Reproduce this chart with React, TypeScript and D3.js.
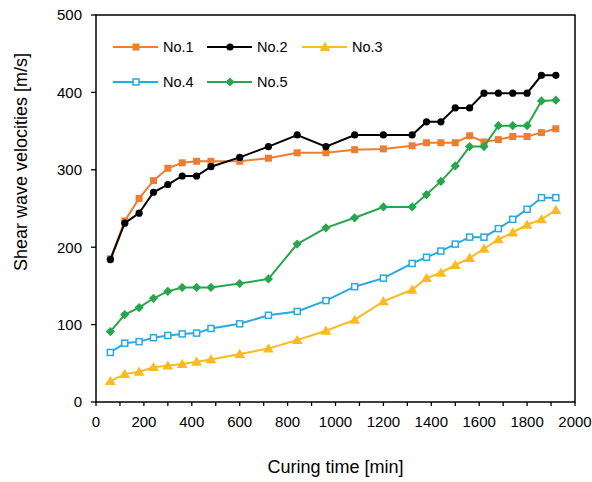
import React from "react";
import * as d3 from "d3";

const times = [60, 120, 180, 240, 300, 360, 420, 480, 600, 720, 840, 960, 1080, 1200, 1320, 1380, 1440, 1500, 1560, 1620, 1680, 1740, 1800, 1860, 1920];

const no1 = [185, 234, 263, 286, 302, 309, 311, 311, 311, 315, 322, 322, 326, 327, 331, 335, 335, 335, 344, 336, 339, 343, 343, 348, 353];
const no2 = [184, 231, 244, 271, 281, 292, 292, 304, 316, 330, 345, 330, 345, 345, 345, 362, 362, 380, 380, 399, 399, 399, 399, 422, 422];
const no3 = [27, 36, 39, 45, 47, 49, 52, 55, 62, 69, 80, 92, 106, 130, 145, 160, 167, 177, 186, 198, 210, 219, 229, 236, 248];
const no4 = [64, 76, 78, 83, 86, 88, 89, 95, 101, 112, 117, 131, 149, 160, 179, 187, 195, 204, 213, 213, 224, 236, 249, 264, 264];
const no5 = [91, 113, 122, 134, 143, 148, 148, 148, 153, 159, 204, 225, 238, 252, 252, 268, 285, 305, 330, 330, 357, 357, 357, 389, 390];

const xTicks = [0, 200, 400, 600, 800, 1000, 1200, 1400, 1600, 1800, 2000];
const xMinorTicks = d3.range(0, 2001, 100);
const yTicks = [0, 100, 200, 300, 400, 500];

const seriesNames = ["No.1", "No.2", "No.3", "No.4", "No.5"];
const seriesData = [no1, no2, no3, no4, no5];
const colors = ["#ED7D31", "#000000", "#FBBA1E", "#2AA8E0", "#27A64E"];
const markers = ["square", "circle", "triangle", "openSquare", "diamond"];

const W = 592, H = 482;
const left = 96, right = 575, top = 15, bottom = 402;

function Marker({ type, x, y, color }: { type: string; x: number; y: number; color: string }) {
  if (type === "square") return <rect x={x - 3.5} y={y - 3.5} width={7} height={7} fill={color} />;
  if (type === "circle") return <circle cx={x} cy={y} r={3.6} fill={color} />;
  if (type === "triangle") {
    const s = 5.2;
    return <path d={`M${x},${y - s}L${x + s * 1.05},${y + s * 0.75}L${x - s * 1.05},${y + s * 0.75}Z`} fill={color} />;
  }
  if (type === "openSquare") return <rect x={x - 3} y={y - 3} width={6} height={6} fill="#fff" stroke={color} strokeWidth={1.5} />;
  if (type === "diamond") {
    const s = 4.6;
    return <path d={`M${x},${y - s}L${x + s},${y}L${x},${y + s}L${x - s},${y}Z`} fill={color} />;
  }
  return null;
}

export default function App() {
  const x = d3.scaleLinear().domain([0, 2000]).range([left, right]);
  const y = d3.scaleLinear().domain([0, 500]).range([bottom, top]);
  const line = d3.line<[number, number]>().x(d => x(d[0])).y(d => y(d[1]));
  const font = "Arial, 'Liberation Sans', sans-serif";

  const legendPos = [
    { lx: 113, ly: 47 },
    { lx: 207, ly: 47 },
    { lx: 302, ly: 47 },
    { lx: 113, ly: 82 },
    { lx: 207, ly: 82 },
  ];

  return (
    <svg width={W} height={H} style={{ position: "absolute", left: 0, top: 0, background: "#fff" }} fontFamily={font}>
      <rect x={0} y={0} width={W} height={H} fill="#fff" />
      {seriesData.map((vals, i) => (
        <g key={i}>
          <path d={line(times.map((t, j) => [t, vals[j]]) as [number, number][]) || ""} fill="none" stroke={colors[i]} strokeWidth={2} />
          {times.map((t, j) => (
            <Marker key={j} type={markers[i]} x={x(t)} y={y(vals[j])} color={colors[i]} />
          ))}
        </g>
      ))}
      <rect x={left} y={top} width={right - left} height={bottom - top} fill="none" stroke="#000" strokeWidth={1.5} />
      {xMinorTicks.map(t => (
        <line key={t} x1={x(t)} x2={x(t)} y1={bottom} y2={bottom + 4} stroke="#000" strokeWidth={1.3} />
      ))}
      {xTicks.map(t => (
        <text key={t} x={x(t)} y={bottom + 25} textAnchor="middle" fontSize={15} fill="#000">{t}</text>
      ))}
      {yTicks.map(t => (
        <g key={t}>
          <line x1={left - 5} x2={left} y1={y(t)} y2={y(t)} stroke="#000" strokeWidth={1.3} />
          <text x={left - 14} y={y(t) + 5.3} textAnchor="end" fontSize={15} fill="#000">{t}</text>
        </g>
      ))}
      <text x={(left + right) / 2} y={473} textAnchor="middle" fontSize={18} fill="#000">Curing time [min]</text>
      <text transform={`translate(27,162) rotate(-90)`} textAnchor="middle" fontSize={18} fill="#000">Shear wave velocities [m/s]</text>
      {seriesNames.map((n, i) => {
        const { lx, ly } = legendPos[i];
        return (
          <g key={n}>
            <line x1={lx} x2={lx + 45} y1={ly} y2={ly} stroke={colors[i]} strokeWidth={2} />
            <Marker type={markers[i]} x={lx + 23} y={ly} color={colors[i]} />
            <text x={lx + 50} y={ly + 5.2} fontSize={14.5} fill="#000">{n}</text>
          </g>
        );
      })}
    </svg>
  );
}
